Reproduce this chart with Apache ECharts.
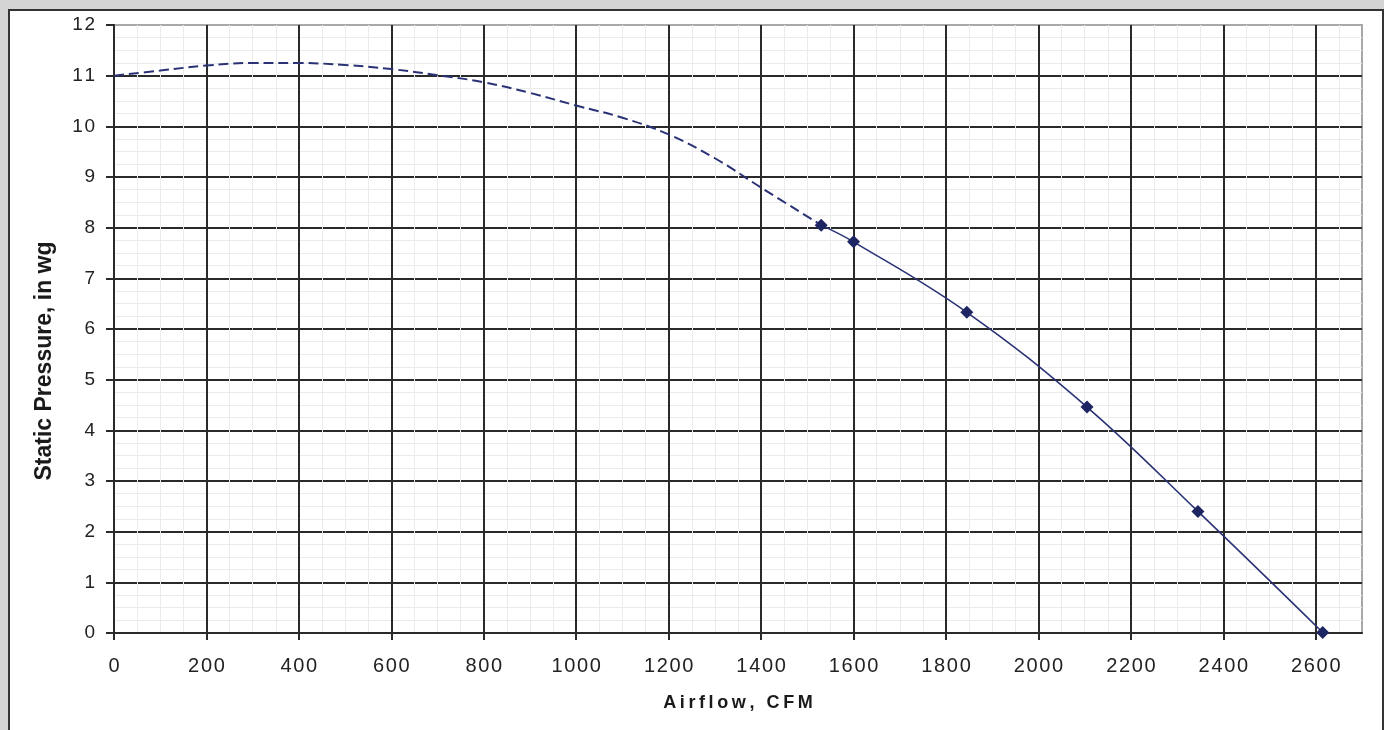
<!DOCTYPE html>
<html>
<head>
<meta charset="utf-8">
<script src="https://cdn.jsdelivr.net/npm/echarts@6/dist/echarts.min.js"></script>
<style>
  html, body { margin: 0; padding: 0; width: 1384px; height: 730px; background: #d4d4d4; overflow: hidden; }
  #panel { position: absolute; left: 8px; top: 9px; width: 1372px; height: 740px; background: #ffffff; border: 2px solid #333333; }
  #chart { position: absolute; left: 0; top: 0; width: 1384px; height: 730px; }
</style>
</head>
<body>
<div id="panel"></div>
<div id="chart"></div>
<script>
// Extrapolated (dashed) part of the fan curve: airflow CFM / static pressure in wg
const dashedCfm = [0, 100, 200, 300, 400, 500, 600, 700, 800, 900, 1000, 1100, 1200, 1300, 1400, 1530];
const dashedSp  = [11.0, 11.1, 11.2, 11.25, 11.25, 11.21, 11.13, 11.01, 10.87, 10.66, 10.41, 10.17, 9.84, 9.37, 8.79, 8.05];
// Tested points (solid line with diamond markers)
const testCfm = [1530, 1600, 1845, 2105, 2345, 2615];
const testSp  = [8.05, 7.72, 6.33, 4.46, 2.40, 0.01];

const xTitle = 'Airflow, CFM';
const yTitle = 'Static Pressure, in wg';

const spaced = (s, sep) => String(s).split('').join(sep);

const lineColor = '#2a3275';
const markColor = '#1e2563';
const gridDark = '#2a2a2a';

const chart = echarts.init(document.getElementById('chart'), null, { renderer: 'canvas' });
chart.setOption({
  animation: false,
  backgroundColor: 'transparent',
  grid: {
    left: 114, top: 25, right: 22, bottom: 97,
    show: true, borderColor: '#a8a8a8', borderWidth: 2, backgroundColor: 'transparent'
  },
  xAxis: {
    type: 'value', min: 0, max: 2700, interval: 200,
    name: spaced(xTitle, '\u2009'),
    nameLocation: 'middle', nameGap: 61,
    nameTextStyle: { fontFamily: 'Liberation Sans', fontSize: 18, fontWeight: 'bold', color: '#1a1a1a' },
    axisLine: { show: true, onZero: false, lineStyle: { color: gridDark, width: 2 } },
    axisTick: { show: true, inside: false, length: 7, lineStyle: { color: gridDark, width: 2 } },
    axisLabel: {
      margin: 23, showMaxLabel: false,
      fontFamily: 'Liberation Sans', fontSize: 20, color: '#222',
      formatter: v => (v === 2700 ? '' : spaced(v, '\u200A'))
    },
    splitLine: { show: true, showMinLine: false, showMaxLine: false, lineStyle: { color: gridDark, width: 2 } },
    minorTick: { show: false, splitNumber: 4 },
    minorSplitLine: { show: true, lineStyle: { color: '#ebebeb', width: 1 } }
  },
  yAxis: {
    type: 'value', min: 0, max: 12, interval: 1,
    name: yTitle,
    nameLocation: 'middle', nameGap: 58, nameRotate: 90,
    nameTextStyle: { fontFamily: 'Liberation Sans', fontSize: 23, fontWeight: 'bold', color: '#1a1a1a', padding: [0, 64, 0, 0] },
    axisLine: { show: true, onZero: false, lineStyle: { color: gridDark, width: 2 } },
    axisTick: { show: true, inside: false, length: 8, lineStyle: { color: gridDark, width: 2 } },
    axisLabel: {
      margin: 19,
      fontFamily: 'Liberation Sans', fontSize: 19, color: '#222',
      formatter: v => spaced(v, '\u200A')
    },
    splitLine: { show: true, showMinLine: false, showMaxLine: false, lineStyle: { color: gridDark, width: 2 } },
    minorTick: { show: false, splitNumber: 4 },
    minorSplitLine: { show: true, lineStyle: { color: '#ebebeb', width: 1 } }
  },
  series: [
    {
      type: 'line', name: 'extrapolated',
      data: dashedCfm.map((x, i) => [x, dashedSp[i]]),
      smooth: 0.4, showSymbol: false, symbol: 'none',
      lineStyle: { color: lineColor, width: 2, type: [10, 5] },
      z: 3
    },
    {
      type: 'line', name: 'tested',
      data: testCfm.map((x, i) => [x, testSp[i]]),
      smooth: 0.4, symbol: 'diamond', symbolSize: 13, showSymbol: true,
      lineStyle: { color: lineColor, width: 1.6 },
      itemStyle: { color: markColor, borderWidth: 0 },
      z: 4
    }
  ]
});
</script>
</body>
</html>
